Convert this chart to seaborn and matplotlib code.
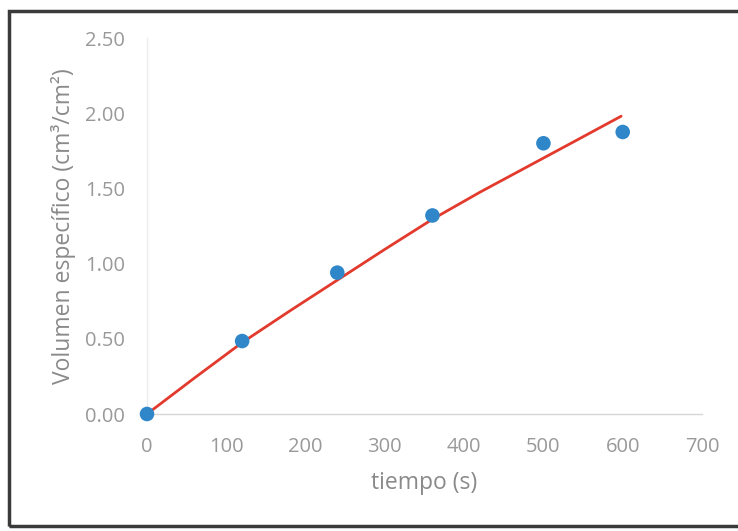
import matplotlib
matplotlib.use("Agg")
import matplotlib.pyplot as plt
import seaborn as sns
import pandas as pd
from matplotlib.patches import Rectangle

# Measured data (points)
tiempo = [0, 120, 240, 360, 500, 600]
volumen = [0.00, 0.485, 0.94, 1.32, 1.80, 1.875]

# Trend line
curve_t = [0, 60, 120, 180, 240, 300, 360, 420, 480, 540, 598]
curve_v = [0.00, 0.24, 0.475, 0.685, 0.89, 1.095, 1.295, 1.475, 1.645, 1.815, 1.98]

x_ticks = [0, 100, 200, 300, 400, 500, 600, 700]
y_ticks = [0.00, 0.50, 1.00, 1.50, 2.00, 2.50]

sns.set_theme(style="white")
plt.rcParams['font.family'] = ['Open Sans', 'DejaVu Sans']

fig = plt.figure(figsize=(7.38, 5.31), dpi=100)
ax = fig.add_axes([147/738, 1-414/531, (702-147)/738, (414-38)/531])

pts = pd.DataFrame({"t": tiempo, "v": volumen})
crv = pd.DataFrame({"t": curve_t, "v": curve_v})

sns.lineplot(data=crv, x="t", y="v", ax=ax, color="#E23B2E", linewidth=2.0, zorder=2)
sns.scatterplot(data=pts, x="t", y="v", ax=ax, color="#2F87C9", s=110,
                edgecolor="none", zorder=3, clip_on=False)

ax.set_xlim(0, 700)
ax.set_ylim(0, 2.5)
ax.set_xticks(x_ticks)
ax.set_xticklabels([str(v) for v in x_ticks])
ax.set_yticks(y_ticks)
ax.set_yticklabels([f"{v:.2f}" for v in y_ticks])

tick_color = "#999999"
ax.tick_params(axis="x", length=0, pad=16.5, labelsize=14.5, colors=tick_color)
ax.tick_params(axis="y", length=0, pad=16, labelsize=14.5, colors=tick_color)

for s in ["top", "right"]:
    ax.spines[s].set_visible(False)
ax.spines["left"].set_color("#ececec")
ax.spines["left"].set_linewidth(1.0)
ax.spines["bottom"].set_color("#d6d6d6")
ax.spines["bottom"].set_linewidth(1.0)

ax.set_xlabel("tiempo (s)", fontsize=16.5, color="#8a8a8a", labelpad=10)
ax.set_ylabel("Volumen específico (cm³/cm²)", fontsize=16.5, color="#8a8a8a", labelpad=6)

# outer frame
fig.patches.append(Rectangle((9/738, 1-526/531), 735/738, (526-11)/531,
                             transform=fig.transFigure, fill=False,
                             edgecolor="#3a3a3a", linewidth=2.5))

fig.savefig("out.png", dpi=100)
